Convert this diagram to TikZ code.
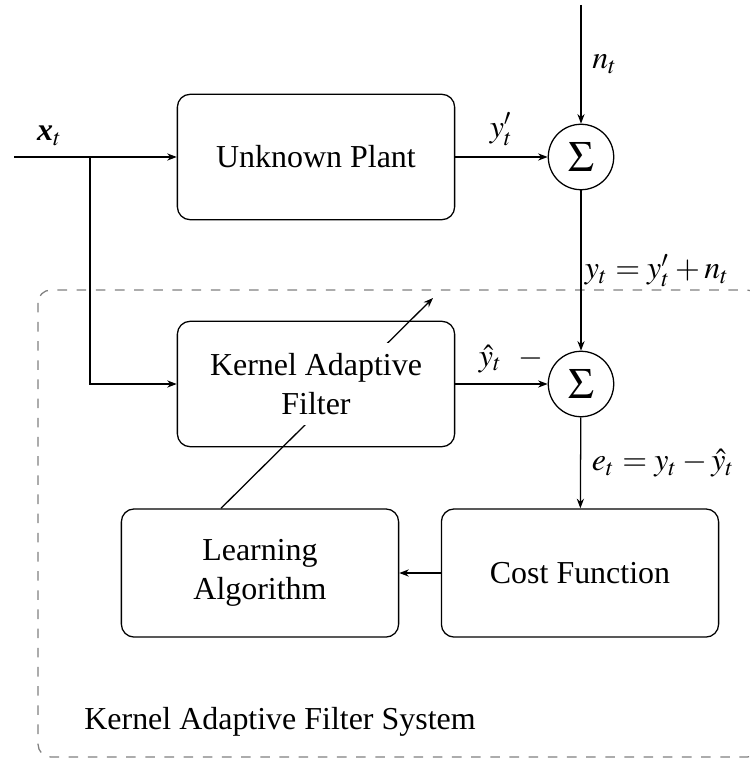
\documentclass[tikz,border=0pt]{standalone}
\usepackage{amsmath}
\usepackage{mathptmx}
\usepackage{fontspec}
\setmainfont{Liberation Serif}
\usepackage{tikz}
\usetikzlibrary{arrows.meta,positioning,calc}

\begin{document}
\begin{tikzpicture}[x=0.011cm,y=-0.011cm,
  block/.style={draw,rounded corners,minimum width=3.05cm,minimum height=1.38cm,align=center},
  sumnode/.style={draw,circle,minimum size=0.72cm,inner sep=0pt,font=\fontsize{13.5pt}{16pt}\selectfont},
  >={Stealth[length=3pt]}]
\useasboundingbox (0,0) rectangle (749,758);
% system frame
\draw[gray,dashed,rounded corners] (38,290) rectangle (760,757);
\node (sys) at (280,722) {Kernel Adaptive Filter System};

\node[block] (plant) at (316,157) {Unknown Plant};
\node[block] (kaf) at (316,384) {};
\node[sumnode] (sum1) at (581,157) {$\Sigma$};
\node[sumnode] (sum2) at (581,384) {$\Sigma$};
\node[block,minimum height=1.41cm] (la) at (260,573) {Learning\\Algorithm};
\node[block,minimum height=1.41cm] (cf) at (580,573) {Cost Function};

\coordinate (in) at (14,157);
\coordinate (split) at (90,157);
\coordinate (noise) at (581,5);

\draw[->] (in) -- node[above,pos=0.22]{$\textbf{\textit{x}}_t$} (plant);
\draw[->] (split) |- (kaf);
\draw[->] (plant) -- node[above]{$y'_t$} (sum1);
\draw[->] (noise) -- node[right]{$n_t$} (sum1);
\draw[->] (sum1) -- node[right,inner sep=1pt]{$y_t = y'_t + n_t$} (sum2);
\draw[->] (kaf) -- node[above,xshift=3pt]{$\hat{y}_t\enspace-$} (sum2);
\draw[->] (sum2) -- node[right]{$e_t = y_t - \hat{y}_t$} (cf);
\draw[->] (cf) -- (la);

% adaptation
\coordinate (adapt) at (433,298);
\draw[->] ($(la.north west)!0.36!(la.north east)$) -- (adapt);
\node[fill=white,align=center] (kaftext) at (kaf) {Kernel Adaptive\\Filter};
\end{tikzpicture}
\end{document}
